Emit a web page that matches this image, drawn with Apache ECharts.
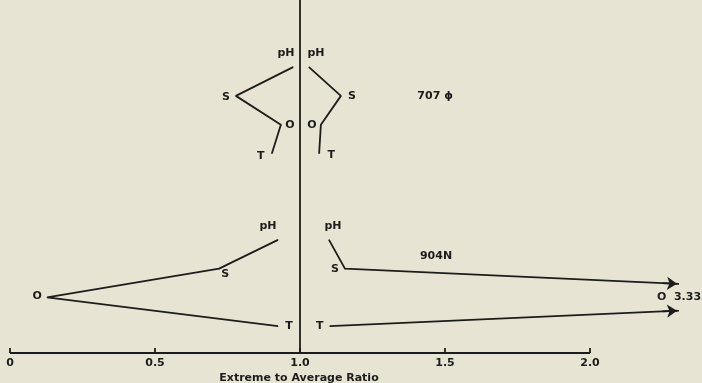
<!DOCTYPE html>
<html>
<head>
<meta charset="utf-8">
<script src="https://cdn.jsdelivr.net/npm/echarts@6/dist/echarts.min.js"></script>
<style>
  html, body { margin: 0; padding: 0; background: #e8e4d3; }
  #chart { width: 702px; height: 383px; }
</style>
</head>
<body>
<div id="chart"></div>
<script>
// Parameters plotted for each sample, top to bottom
const params = ['pH', 'S', 'O', 'T'];

// Row positions of the parameters for each sample
const rows707 = [1, 2, 3, 4];
const rows904 = [7, 8, 9, 10];

// Extreme to average ratios: low extreme (left of 1.0) and high extreme (right of 1.0)
const s707Low  = [0.976, 0.779, 0.934, 0.903];
const s707High = [1.031, 1.141, 1.072, 1.066];
const s904Low  = [0.924, 0.721, 0.128, 0.924];
const s904High = [1.100, 1.155, 3.33, 1.103];

const sampleNames = ['707 \u03D5', '904N'];
const xTicks = [0, 0.5, 1.0, 1.5, 2.0];
const axisTitle = 'Extreme to Average Ratio';

// Plot extent
const X_MAX = 2.30;       // right edge of the plotting area; larger ratios run off as arrows
const X_AXIS_END = 2.0;   // the drawn baseline stops at the last tick
const Y_MIN = -1.33, Y_MAX = 10.93;

const INK = '#1c1c1c';
const FONT = 'DejaVu Sans';
const FS = 11;

// Label offsets (px) for each point, per branch
const labelOffsets = {
  low707:  [[-7, -14], [-10, 1], [9, 0], [-11, 3]],
  high707: [[7, -14], [11, 0], [-9, 0], [12, 2]],
  low904:  [[-10, -14], [6, 6], [-10, -1], [11, 0]],
  high904: [[4, -14], [-10, 1], [0, 0], [-10, 0]]
};

function branch(name, xs, rows, offsets) {
  return {
    type: 'line',
    name: name,
    clip: true,
    symbol: 'circle',
    symbolSize: 1,
    itemStyle: { color: INK },
    lineStyle: { color: INK, width: 1.8 },
    emphasis: { disabled: true },
    animation: false,
    z: 3,
    data: xs.map((x, i) => ({
      value: [x, rows[i]],
      label: {
        show: x <= X_MAX,
        position: 'inside',
        offset: offsets[i],
        formatter: params[i],
        color: INK,
        fontFamily: FONT,
        fontWeight: 'bold',
        fontSize: FS
      }
    }))
  };
}

// Where a segment running past the right edge meets it; used to place the arrowheads
function edgeArrows(xs, rows) {
  const out = [];
  for (let i = 0; i < xs.length - 1; i++) {
    const a = [xs[i], rows[i]], b = [xs[i + 1], rows[i + 1]];
    if ((a[0] - X_MAX) * (b[0] - X_MAX) < 0) {
      const inner = a[0] < b[0] ? a : b, outer = a[0] < b[0] ? b : a;
      const yAt = x => inner[1] + (outer[1] - inner[1]) * (x - inner[0]) / (outer[0] - inner[0]);
      out.push({ coords: [[X_MAX - 0.05, yAt(X_MAX - 0.05)], [X_MAX, yAt(X_MAX)]] });
    }
  }
  return out;
}

// Off-scale values are written beside the arrows
const offScale = [];
s904High.forEach((x, i) => {
  if (x > X_MAX) offScale.push({ coord: [X_MAX, rows904[i]], text: params[i] + '  ' + x.toFixed(2) });
});

const chart = echarts.init(document.getElementById('chart'), null, { renderer: 'canvas' });

chart.setOption({
  backgroundColor: '#e8e4d3',
  animation: false,
  grid: { left: 10, right: 702 - 10 - Math.round(X_MAX * 290), top: 0, bottom: 30, containLabel: false },
  xAxis: {
    type: 'value',
    min: 0,
    max: X_MAX,
    interval: 0.5,
    splitLine: { show: false },
    axisLine: { show: false, onZero: false },
    axisTick: { show: true, inside: true, length: 5, customValues: xTicks,
                lineStyle: { color: INK, width: 1.8 } },
    axisLabel: {
      customValues: xTicks,
      margin: 5,
      color: INK,
      fontFamily: FONT,
      fontWeight: 'bold',
      fontSize: FS,
      formatter: v => (v === 0 ? '0' : v.toFixed(1))
    }
  },
  yAxis: {
    type: 'value',
    inverse: true,
    min: Y_MIN,
    max: Y_MAX,
    show: false
  },
  graphic: [{
    type: 'text',
    x: 299,
    y: 378,
    style: {
      text: axisTitle,
      fill: INK,
      align: 'center',
      verticalAlign: 'middle',
      font: 'bold ' + FS + 'px "' + FONT + '"'
    }
  }],
  series: [
    Object.assign(branch('707 low', s707Low, rows707, labelOffsets.low707), {
      markLine: {
        silent: true,
        symbol: 'none',
        label: { show: false },
        lineStyle: { color: INK, width: 1.8, type: 'solid' },
        data: [
          { xAxis: 1.0 },
          [{ coord: [0, Y_MAX] }, { coord: [X_AXIS_END, Y_MAX] }]
        ]
      },
      markPoint: {
        silent: true,
        symbol: 'circle',
        symbolSize: 0,
        label: { show: true, color: INK, fontFamily: FONT, fontWeight: 'bold', fontSize: FS,
                 formatter: p => p.name },
        data: [
          { name: sampleNames[0], coord: [1.466, rows707[1]] },
          { name: sampleNames[1], coord: [1.469, 7.55] }
        ]
      }
    }),
    branch('707 high', s707High, rows707, labelOffsets.high707),
    branch('904 low', s904Low, rows904, labelOffsets.low904),
    Object.assign(branch('904 high', s904High, rows904, labelOffsets.high904), {
      markPoint: {
        silent: true,
        symbol: 'circle',
        symbolSize: 0,
        label: { show: true, color: INK, fontFamily: FONT, fontWeight: 'bold', fontSize: FS,
                 formatter: p => p.name, offset: [2, 0] },
        data: offScale.map(o => ({ name: o.text, coord: o.coord }))
      }
    }),
    {
      type: 'lines',
      coordinateSystem: 'cartesian2d',
      clip: false,
      silent: true,
      symbol: ['none', 'arrow'],
      symbolSize: [5, 10],
      lineStyle: { color: INK, width: 1.8, opacity: 1 },
      itemStyle: { color: INK },
      z: 4,
      data: edgeArrows(s904High, rows904)
    }
  ]
});
</script>
</body>
</html>
